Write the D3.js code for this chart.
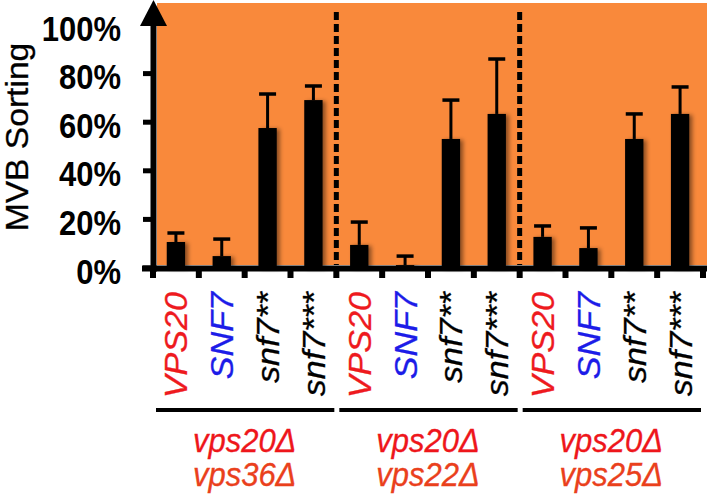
<!DOCTYPE html>
<html>
<head>
<meta charset="utf-8">
<script src="https://cdn.jsdelivr.net/npm/d3@7"></script>
<style>
  body { margin: 0; background: #fff; }
  text { font-family: Arial, "Liberation Sans", sans-serif; }
</style>
</head>
<body>
<svg width="709" height="498"></svg>
<script>
// data (percent MVB sorting, mean and upper error)
var groups = ["vps20Δ|vps36Δ", "vps20Δ|vps22Δ", "vps20Δ|vps25Δ"];
var conditions = ["VPS20", "SNF7", "snf7**", "snf7***"];
var condColors = ["#ee1a1e", "#1c1ce8", "#000", "#000"];
var means = [
    [10.7, 4.9, 57.6, 69.1],
    [9.5, 1.2, 53.1, 63.4],
    [12.8, 8.2, 53.1, 63.4]
];
var errors = [
    [3.7, 7.0, 14.0, 5.8],
    [9.4, 3.7, 16.0, 22.6],
    [4.5, 8.3, 10.3, 11.1]
];
var yTicks = [0, 20, 40, 60, 80, 100];

var svg = d3.select("svg");

var rows = [];
groups.forEach(function(g, gi) {
    conditions.forEach(function(c, ci) {
        rows.push({id: gi + "-" + c, group: gi, cond: ci, label: c, mean: means[gi][ci], err: errors[gi][ci]});
    });
});

var x = d3.scaleBand()
    .domain(rows.map(function(d) { return d.id; }))
    .range([153, 703])
    .paddingInner(0.6)
    .paddingOuter(0.3);
var step = x.step();

var y = d3.scaleLinear().domain([0, 100]).range([268, 25]);

var defs = svg.append("defs");
var f = defs.append("filter").attr("id", "shadow")
    .attr("x", "-50%").attr("y", "-20%").attr("width", "200%").attr("height", "140%");
f.append("feDropShadow")
    .attr("dx", 3).attr("dy", 1)
    .attr("stdDeviation", 2)
    .attr("flood-color", "#000")
    .attr("flood-opacity", 0.45);

// orange plot area
svg.append("rect")
    .attr("x", 157)
    .attr("y", 3)
    .attr("width", 550)
    .attr("height", 262)
    .attr("fill", "#f9893b");

// dashed group separators
[1, 2].forEach(function(gi) {
    var xx = x.range()[0] + step * 4 * gi;
    svg.append("line")
        .attr("x1", xx).attr("x2", xx)
        .attr("y1", 12).attr("y2", 265)
        .attr("stroke", "#000")
        .attr("stroke-width", 5)
        .attr("stroke-dasharray", "8,4");
});

// bars
var bar = svg.append("g").selectAll("g").data(rows).enter().append("g");

bar.append("rect")
    .attr("x", function(d) { return x(d.id); })
    .attr("y", function(d) { return y(d.mean); })
    .attr("width", x.bandwidth())
    .attr("height", function(d) { return y(0) - y(d.mean); })
    .attr("fill", "#000")
    .attr("filter", "url(#shadow)");

// error bars
bar.append("line")
    .attr("x1", function(d) { return x(d.id) + x.bandwidth() / 2; })
    .attr("x2", function(d) { return x(d.id) + x.bandwidth() / 2; })
    .attr("y1", function(d) { return y(d.mean); })
    .attr("y2", function(d) { return y(d.mean + d.err); })
    .attr("stroke", "#000")
    .attr("stroke-width", 3);
bar.append("line")
    .attr("x1", function(d) { return x(d.id) + x.bandwidth() / 2 - 8.5; })
    .attr("x2", function(d) { return x(d.id) + x.bandwidth() / 2 + 8.5; })
    .attr("y1", function(d) { return y(d.mean + d.err); })
    .attr("y2", function(d) { return y(d.mean + d.err); })
    .attr("stroke", "#000")
    .attr("stroke-width", 3.5);

// y axis with arrow
svg.append("line")
    .attr("x1", 153.5).attr("x2", 153.5)
    .attr("y1", 272).attr("y2", 24)
    .attr("stroke", "#000")
    .attr("stroke-width", 6);
svg.append("path")
    .attr("d", "M140,26 L153.5,0 L167,26 Z")
    .attr("fill", "#000");

var yAxis = svg.append("g");
yAxis.selectAll("rect").data(yTicks.slice(0, -1)).enter().append("rect")
    .attr("x", 143)
    .attr("y", function(d) { return y(d) - 2.5; })
    .attr("width", 10)
    .attr("height", 5)
    .attr("fill", "#000");
yAxis.selectAll("text").data(yTicks).enter().append("text")
    .attr("transform", function(d) { return "translate(121," + (y(d) + 3) + ") scale(1,1.12)"; })
    .attr("dy", "0.36em")
    .attr("text-anchor", "end")
    .style("font-size", "31px")
    .style("font-weight", "bold")
    .text(function(d) { return d + "%"; });

svg.append("text")
    .attr("transform", "translate(28,137) rotate(-90) scale(1.05,1)")
    .attr("text-anchor", "middle")
    .style("font-size", "32px")
    .attr("stroke", "#000")
    .attr("stroke-width", 0.3)
    .text("MVB Sorting");

// x axis
svg.append("line")
    .attr("x1", 142).attr("x2", 707)
    .attr("y1", 268.5).attr("y2", 268.5)
    .attr("stroke", "#000")
    .attr("stroke-width", 6);
var xTicks = d3.range(rows.length + 1).map(function(i) { return x.range()[0] + i * step; });
svg.append("g").selectAll("rect").data(xTicks).enter().append("rect")
    .attr("x", function(d) { return d - 3; })
    .attr("y", 270)
    .attr("width", 6)
    .attr("height", 8)
    .attr("fill", "#000");

// condition labels
svg.append("g").selectAll("text").data(rows).enter().append("text")
    .attr("transform", function(d) {
        return "translate(" + (x(d.id) + x.bandwidth() / 2 + 11.5) + ",292) rotate(-90) scale(1.1,1)";
    })
    .attr("text-anchor", "end")
    .style("font-size", "31px")
    .style("font-style", "italic")
    .attr("fill", function(d) { return condColors[d.cond]; })
    .attr("stroke", function(d) { return condColors[d.cond]; })
    .attr("stroke-width", 0.3)
    .text(function(d) { return d.label; });

// group underlines and labels
groups.forEach(function(g, gi) {
    var x0 = x.range()[0] + step * 4 * gi;
    var x1 = x0 + step * 4;
    svg.append("line")
        .attr("x1", x0 + 3).attr("x2", x1 - 2)
        .attr("y1", 410).attr("y2", 410)
        .attr("stroke", "#000")
        .attr("stroke-width", 4);
    var parts = g.split("|");
    var cols = ["#ee161b", "#ea401c"];
    parts.forEach(function(p, pi) {
        svg.append("text")
            .attr("transform", "translate(" + ((x0 + x1) / 2) + "," + (452 + pi * 34) + ") scale(1,1.08)")
            .attr("text-anchor", "middle")
            .style("font-size", "31px")
            .style("font-style", "italic")
            .attr("fill", cols[pi])
            .attr("stroke", cols[pi])
            .attr("stroke-width", 0.3)
            .text(p);
    });
});
</script>
</body>
</html>
